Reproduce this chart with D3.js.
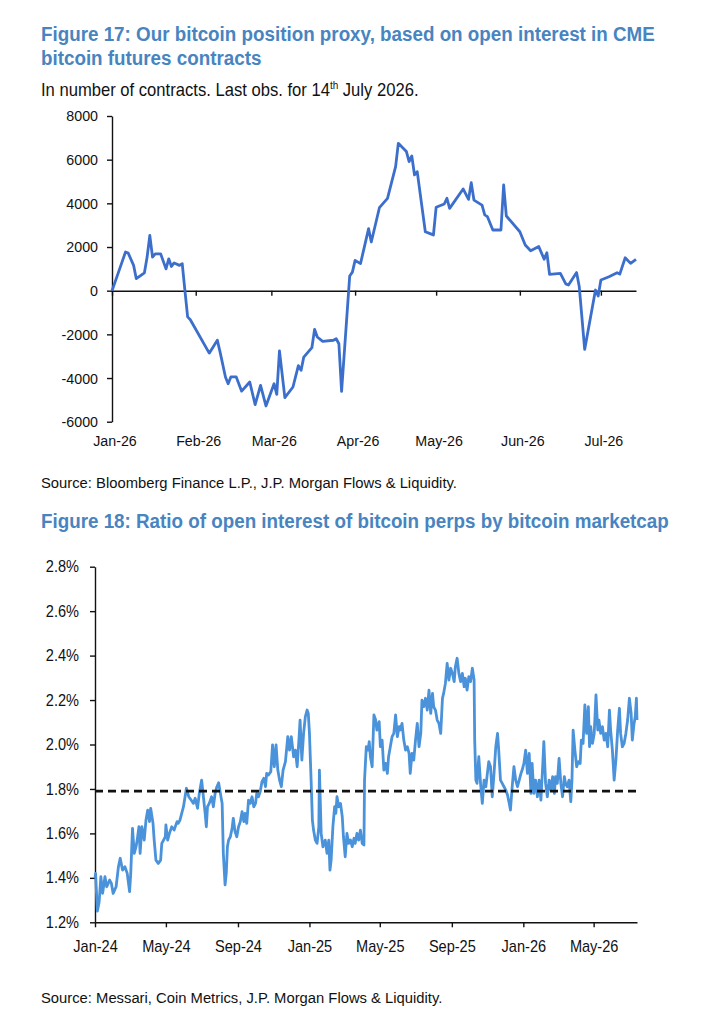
<!DOCTYPE html>
<html><head><meta charset="utf-8">
<script src="https://cdn.jsdelivr.net/npm/d3@7"></script>
<style>
body{margin:0;background:#fff;}
svg text{font-family:"Liberation Sans",Arial,Helvetica,sans-serif;}
</style></head><body>
<svg id="c" width="716" height="1024"></svg>
<script>
// ---------- Figure 17 data ----------
const fig17Title = ["Figure 17: Our bitcoin position proxy, based on open interest in CME", "bitcoin futures contracts"];
const fig17Source = "Source: Bloomberg Finance L.P., J.P. Morgan Flows & Liquidity.";
const positionDates = ["2026-01-01","2026-01-03","2026-01-06","2026-01-07","2026-01-09","2026-01-10","2026-01-13","2026-01-14","2026-01-15","2026-01-16","2026-01-17","2026-01-19","2026-01-21","2026-01-22","2026-01-23","2026-01-24","2026-01-26","2026-01-27","2026-01-28","2026-01-29","2026-01-30",
"2026-02-06","2026-02-09","2026-02-10","2026-02-12","2026-02-13","2026-02-14","2026-02-16","2026-02-18","2026-02-21","2026-02-23","2026-02-25","2026-02-27",
"2026-03-02","2026-03-03","2026-03-04","2026-03-06","2026-03-09","2026-03-11","2026-03-12","2026-03-13","2026-03-16","2026-03-17","2026-03-18","2026-03-20","2026-03-24","2026-03-25","2026-03-26","2026-03-27","2026-03-30","2026-03-31",
"2026-04-01","2026-04-03","2026-04-06","2026-04-07","2026-04-10","2026-04-13","2026-04-16","2026-04-17","2026-04-20","2026-04-21","2026-04-22","2026-04-23","2026-04-24","2026-04-27","2026-04-29","2026-04-30",
"2026-05-01","2026-05-04","2026-05-05","2026-05-06","2026-05-11","2026-05-13","2026-05-14","2026-05-15","2026-05-18","2026-05-19","2026-05-20","2026-05-22","2026-05-25","2026-05-26","2026-05-27",
"2026-06-01","2026-06-03","2026-06-05","2026-06-08","2026-06-10","2026-06-11","2026-06-12","2026-06-16","2026-06-18","2026-06-19","2026-06-22","2026-06-23","2026-06-25","2026-06-29","2026-06-30",
"2026-07-01","2026-07-04","2026-07-07","2026-07-08","2026-07-10","2026-07-12","2026-07-14"];
const positionValues = [0,700,1770,1720,1160,550,820,1540,2530,1540,1690,1690,1000,1460,1110,1270,1160,1240,0,-1200,-1330,
-2860,-2270,-2800,-3950,-4260,-3950,-3950,-4600,-4180,-5220,-4340,-5280,
-4260,-4750,-2760,-4900,-4410,-3430,-3650,-3040,-2610,-1770,-2120,-2320,-2270,-2200,-2430,-4610,670,850,
1390,1240,2840,2230,3800,4230,5680,6750,6370,5910,6170,5300,5450,2700,2600,2550,
3820,3970,4230,3770,4660,4180,4950,4150,3920,3470,3390,2780,2780,4840,3420,
2700,2090,1830,2020,1440,1740,750,790,310,260,830,180,-2690,30,-240,
490,640,820,760,1510,1250,1430];
const positionTicks = [-6000,-4000,-2000,0,2000,4000,6000,8000];
const positionMonths = ["2026-01-01","2026-02-01","2026-03-01","2026-04-01","2026-05-01","2026-06-01","2026-07-01"];
const positionStart = "2026-01-01", positionEnd = "2026-07-14";

// ---------- Figure 18 data ----------
const fig18Title = "Figure 18: Ratio of open interest of bitcoin perps by bitcoin marketcap";
const fig18Source = "Source: Messari, Coin Metrics, J.P. Morgan Flows & Liquidity.";
const ratioStart = "2024-01-01", ratioEnd = "2026-07-14";
// [days since 2024-01-01, ratio in %]
const ratioSeries = [[0,1.40],[1,1.42],[4,1.25],[7,1.29],[10,1.405],[13,1.33],[17,1.405],[20,1.36],[25,1.39],[28,1.375],[31,1.33],[36,1.36],[40,1.45],[43,1.488],[47,1.435],[51,1.45],[55,1.42],[59,1.338],[61,1.42],[64,1.623],[67,1.51],[70,1.54],[72,1.57],[75,1.63],[77,1.51],[80,1.63],[84,1.57],[87,1.66],[90,1.705],[93,1.653],[95,1.713],[99,1.645],[101,1.57],[104,1.48],[108,1.465],[112,1.48],[114,1.555],[117,1.57],[120,1.585],[121,1.638],[124,1.57],[127,1.60],[131,1.63],[135,1.615],[140,1.653],[142,1.645],[145,1.66],[148,1.69],[151,1.72],[156,1.803],[160,1.765],[164,1.75],[168,1.735],[171,1.758],[175,1.713],[178,1.78],[182,1.84],[185,1.765],[188,1.69],[190,1.63],[192,1.72],[195,1.735],[199,1.765],[202,1.72],[205,1.78],[208,1.81],[211,1.828],[214,1.78],[217,1.735],[219,1.51],[222,1.368],[224,1.42],[226,1.54],[228,1.57],[231,1.585],[234,1.623],[236,1.668],[239,1.608],[242,1.585],[245,1.63],[248,1.653],[251,1.698],[254,1.653],[256,1.69],[259,1.645],[262,1.75],[265,1.735],[268,1.765],[271,1.72],[274,1.735],[276,1.78],[279,1.765],[282,1.788],[285,1.833],[288,1.848],[291,1.81],[293,1.87],[296,1.863],[300,1.878],[303,1.998],[306,1.90],[309,1.998],[312,1.885],[315,1.84],[318,1.81],[321,1.885],[325,1.923],[329,2.035],[332,1.975],[335,2.035],[339,1.945],[342,1.975],[345,1.90],[348,2.02],[350,2.11],[353,1.93],[356,2.05],[359,2.125],[362,2.155],[364,2.14],[366,2.05],[369,1.825],[371,1.66],[373,1.615],[376,1.57],[379,1.555],[382,1.63],[383,1.885],[386,1.60],[389,1.54],[393,1.57],[396,1.51],[399,1.57],[401,1.435],[403,1.48],[406,1.63],[409,1.72],[411,1.69],[413,1.765],[416,1.72],[419,1.735],[422,1.675],[424,1.585],[427,1.495],[430,1.60],[433,1.555],[436,1.57],[439,1.54],[442,1.578],[444,1.555],[447,1.60],[450,1.57],[453,1.615],[456,1.555],[459,1.548],[460,1.84],[463,1.99],[466,1.975],[468,2.013],[470,1.945],[473,1.90],[476,2.133],[479,2.11],[481,2.065],
[485,2.103],[487,1.99],[490,2.02],[493,1.885],[496,1.915],[499,1.87],[501,1.945],[504,1.99],[507,2.035],[510,2.05],[513,2.133],[516,2.035],[519,2.08],[521,2.065],[524,2.095],[527,2.02],[530,1.975],[533,1.99],[536,1.96],[538,1.87],[541,1.96],[544,1.93],[547,2.02],[550,2.095],[553,1.99],[556,2.05],[558,2.20],[561,2.17],[564,2.208],[567,2.155],[570,2.245],[573,2.14],[576,2.23],[578,2.17],[581,2.155],[584,2.11],[587,2.095],[590,2.05],[593,2.208],[595,2.23],[598,2.275],[601,2.365],[604,2.29],[607,2.343],[610,2.32],[613,2.283],[615,2.35],[618,2.388],[621,2.32],[624,2.283],[627,2.32],[630,2.26],[632,2.298],[635,2.245],[638,2.305],[641,2.283],[644,2.343],[647,2.29],[648,2.02],[650,1.84],[652,1.825],[655,1.945],[658,1.825],[661,1.735],[664,1.84],[667,1.81],[670,1.878],[672,1.923],[675,1.90],[678,1.765],[681,1.87],[684,1.99],[687,2.05],[689,1.975],[692,1.84],[695,1.825],[698,1.81],[701,1.795],[704,1.773],[707,1.735],[709,1.705],[712,1.81],[715,1.90],[718,1.84],[721,1.81],[724,1.84],[727,1.87],[729,1.885],[732,1.915],[735,1.975],[738,1.87],[741,1.96],[744,1.78],[746,1.915],[749,1.78],[752,1.84],[755,1.765],[758,1.84],[761,1.75],[764,1.90],[766,2.013],[769,1.825],[772,1.765],[775,1.84],[778,1.795],[781,1.855],[784,1.78],[786,1.855],[789,1.825],[792,1.938],[795,1.825],[798,1.765],[801,1.855],[803,1.825],[806,1.81],[809,1.84],[812,1.743],[814,1.84],[816,2.065],[819,1.975],[822,1.90],[825,1.923],[828,1.915],[830,2.02],[833,2.005],[836,2.178],[839,2.05],[842,2.17],[844,1.99],[846,2.08],[849,2.005],[852,2.05],[855,2.223],[858,2.065],[860,2.11],[863,2.05],[866,2.08],[869,2.02],[872,2.05],[875,1.99],[878,2.155],[880,2.065],[883,1.975],[886,1.84],[889,1.93],[892,2.065],[895,2.163],[897,2.05],[900,1.99],[903,2.005],[906,2.05],[909,2.11],[912,2.208],[915,2.14],[917,2.02],[920,2.095],[922,2.125],[924,2.208],[925,2.11]];
const ratioAverage = 1.79;
const ratioTicks = [1.2,1.4,1.6,1.8,2.0,2.2,2.4,2.6,2.8];

// ---------- styles ----------
const TITLE_COLOR = "#4884bf";
const LINE1_COLOR = "#3c6fcc";
const LINE2_COLOR = "#4a92da";
const TEXT_COLOR = "#111";

const parse = d3.timeParse("%Y-%m-%d");
const fmtMonth = d3.timeFormat("%b-%y");
const svg = d3.select("#c");

// condensed look: horizontal squeeze of each text around its own x position
function squeeze(sel, s){
  sel.each(function(){
    const t = d3.select(this);
    const x = +t.attr("x") || 0;
    t.attr("x", x / s).attr("transform", `scale(${s},1)`);
  });
}
function styleAxis(g, size, s){
  g.select(".domain").attr("stroke",TEXT_COLOR).attr("stroke-width",1.4);
  g.selectAll(".tick line").attr("stroke",TEXT_COLOR).attr("stroke-width",1.4);
  g.selectAll("text").attr("fill",TEXT_COLOR).attr("font-size",size).call(squeeze, s);
}

// ---------- Figure 17 ----------
svg.append("g").selectAll("text").data(fig17Title).join("text")
  .attr("x",41).attr("y",(d,i)=>41+i*24.5)
  .attr("fill",TITLE_COLOR).attr("font-weight","bold").attr("font-size",20.5).text(d=>d)
  .call(squeeze, 0.918);

const sub = svg.append("text").attr("x",41).attr("y",96).attr("font-size",17.5).attr("fill",TEXT_COLOR);
sub.append("tspan").text("In number of contracts. Last obs. for 14");
sub.append("tspan").attr("font-size",10.5).attr("dy",-6.5).text("th");
sub.append("tspan").attr("dy",6.5).text(" July 2026.");
sub.call(squeeze, 0.95);

const x1 = d3.scaleTime().domain([parse(positionStart), parse(positionEnd)]).range([112,636]);
const y1 = d3.scaleLinear().domain([-6000,8000]).range([421.7,116]);

svg.append("g").attr("transform","translate(112,0)")
  .call(d3.axisLeft(y1).tickValues(positionTicks).tickSize(5).tickPadding(9).tickSizeOuter(0).tickFormat(d=>String(d)))
  .call(styleAxis, 15.5, 0.92);

svg.append("g").attr("transform",`translate(0,${y1(0)})`)
  .call(d3.axisBottom(x1).tickValues(positionMonths.map(parse)).tickSize(5).tickSizeOuter(0).tickFormat(""))
  .call(styleAxis, 15.5, 0.92);

svg.append("g").selectAll("text").data(positionMonths.map(parse)).join("text")
  .attr("x",d=>x1(d)+3).attr("y",446).attr("text-anchor","middle")
  .attr("font-size",15.5).attr("fill",TEXT_COLOR).text(fmtMonth)
  .call(squeeze, 0.92);

const pos = positionDates.map((d,i)=>({date:parse(d), v:positionValues[i]}));
svg.append("path").datum(pos)
  .attr("fill","none").attr("stroke",LINE1_COLOR).attr("stroke-width",2.8).attr("stroke-linejoin","round")
  .attr("d", d3.line().x(d=>x1(d.date)).y(d=>y1(d.v)));

svg.append("text").attr("x",41).attr("y",488).attr("font-size",15.5).attr("fill",TEXT_COLOR).text(fig17Source)
  .call(squeeze, 0.955);

// ---------- Figure 18 ----------
svg.append("text").attr("x",41).attr("y",528).attr("fill",TITLE_COLOR).attr("font-weight","bold")
  .attr("font-size",20.5).text(fig18Title).call(squeeze, 0.918);

const r0 = parse(ratioStart);
const x2 = d3.scaleTime().domain([r0, parse(ratioEnd)]).range([95,637]);
const y2 = d3.scaleLinear().domain([1.2,2.8]).range([922.3,566.7]);

svg.append("g").attr("transform","translate(95,0)")
  .call(d3.axisLeft(y2).tickValues(ratioTicks).tickSize(5).tickPadding(11).tickSizeOuter(0).tickFormat(d=>d3.format(".1f")(d)+"%"))
  .call(styleAxis, 16, 0.91);

const xa2 = svg.append("g").attr("transform","translate(0,922.3)")
  .call(d3.axisBottom(x2).ticks(d3.timeMonth.every(4)).tickSize(5).tickSizeOuter(0).tickFormat(fmtMonth))
  .call(styleAxis, 16, 0.91);
xa2.selectAll("text").attr("dy",null).attr("y",29.5);

const ratio = ratioSeries.map(([d,v])=>({date:d3.timeDay.offset(r0,d), v}));
svg.append("path").datum(ratio)
  .attr("fill","none").attr("stroke",LINE2_COLOR).attr("stroke-width",2.8).attr("stroke-linejoin","round")
  .attr("d", d3.line().x(d=>x2(d.date)).y(d=>y2(d.v)));

svg.append("line").attr("x1",x2.range()[0]).attr("x2",x2.range()[1])
  .attr("y1",y2(ratioAverage)).attr("y2",y2(ratioAverage))
  .attr("stroke",TEXT_COLOR).attr("stroke-width",2.6).attr("stroke-dasharray","8,5");

svg.append("text").attr("x",41).attr("y",1003).attr("font-size",15.5).attr("fill",TEXT_COLOR).text(fig18Source)
  .call(squeeze, 0.955);
</script>
</body></html>
